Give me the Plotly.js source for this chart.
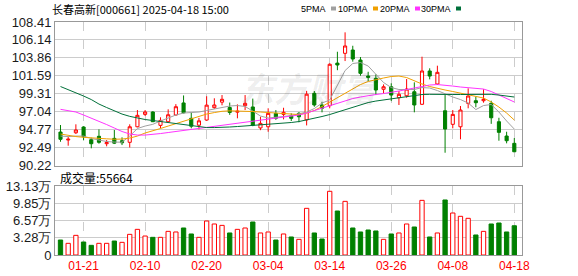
<!DOCTYPE html>
<html><head><meta charset="utf-8">
<script src="https://cdn.plot.ly/plotly-3.0.1.min.js"></script>
<style>html,body{margin:0;padding:0;background:#fff;}#chart{width:578px;height:276px;}</style>
</head><body><div id="chart"></div>
<script>
const dates = ['01-16','01-17','01-20','01-21','01-22','01-23','01-24','01-27','02-05','02-06',
'02-07','02-10','02-11','02-12','02-13','02-14','02-17','02-18','02-19','02-20',
'02-21','02-24','02-25','02-26','02-27','02-28','03-03','03-04','03-05','03-06',
'03-07','03-10','03-11','03-12','03-13','03-14','03-17','03-18','03-19','03-20',
'03-21','03-24','03-25','03-26','03-27','03-28','03-31','04-01','04-02','04-03',
'04-07','04-08','04-09','04-10','04-11','04-14','04-15','04-16','04-17','04-18'];
const openP = [94.46,93.45,94.37,95.10,93.49,93.92,92.98,93.66,93.36,93.16,
95.13,96.70,97.00,95.31,95.77,96.62,98.15,96.20,95.33,95.98,
97.55,98.25,97.57,96.98,97.80,97.64,94.98,95.13,96.83,96.70,
96.53,96.83,96.00,99.37,97.89,97.80,103.20,104.44,104.86,103.59,
101.56,101.27,99.88,100.20,98.81,99.06,99.57,97.98,102.20,100.55,
97.16,95.44,95.13,98.10,98.43,98.43,98.10,95.77,93.96,93.03];
const highP = [95.35,93.87,95.44,95.20,93.74,94.80,93.45,94.72,93.79,95.44,
97.25,97.25,97.10,96.33,97.34,98.00,99.10,96.90,96.25,99.00,
98.74,99.15,98.20,97.97,99.15,98.70,96.40,97.47,97.25,97.54,
96.83,97.00,99.68,99.66,98.30,103.17,104.64,107.10,105.40,103.97,
102.10,101.78,100.50,100.64,99.66,101.18,100.76,104.01,102.54,102.87,
99.15,97.25,97.76,100.00,98.94,99.88,98.43,96.27,94.50,93.70];
const lowP = [93.23,92.73,94.21,93.41,92.40,92.98,92.65,92.94,92.81,92.50,
95.06,96.50,95.73,94.93,95.69,96.55,96.83,94.93,94.80,95.90,
97.40,97.85,96.64,96.20,97.25,95.20,94.70,94.50,96.00,96.07,
95.86,95.70,95.30,97.67,96.96,97.47,102.30,103.46,103.38,101.60,
100.93,99.15,99.37,98.39,97.89,98.81,96.96,97.89,101.14,100.42,
91.84,94.93,93.54,97.47,97.60,98.18,95.50,93.36,93.03,91.96];
const closeP = [93.54,93.55,94.72,93.87,92.98,93.16,93.12,93.05,93.10,95.13,
96.58,97.00,95.77,95.94,96.65,97.67,96.90,95.20,95.88,97.87,
97.89,98.61,96.95,97.10,98.10,95.30,95.56,96.83,96.20,96.96,
96.20,96.40,99.26,97.89,97.47,103.05,102.96,105.37,103.72,101.90,
101.40,99.79,100.20,99.15,99.24,99.91,97.89,102.20,101.56,102.03,
94.84,96.70,97.25,99.03,98.18,98.61,96.27,94.42,93.36,91.96];
const ma5 = [93.95,93.89,93.95,93.95,93.64,93.45,93.26,93.19,93.17,93.95,
94.91,95.22,95.44,95.86,96.24,96.62,96.87,96.93,97.00,97.19,
97.38,97.63,97.76,97.82,97.70,97.12,96.49,96.24,96.30,96.43,
96.55,96.74,97.00,97.44,98.14,98.52,100.42,102.26,103.15,103.27,
102.83,101.82,100.74,100.10,99.85,99.85,99.85,100.10,100.04,99.72,
99.28,98.90,98.58,98.14,97.31,97.82,97.95,97.00,95.86,94.84];
const ma10 = [94.21,94.02,93.89,93.79,93.70,93.66,93.60,93.55,93.57,93.70,
93.95,94.34,94.59,94.91,95.22,95.54,95.86,96.11,96.43,96.74,
96.93,97.09,97.15,97.15,97.12,97.06,97.00,96.93,96.87,96.78,
96.68,96.68,96.87,97.19,97.70,98.27,98.84,99.41,99.98,100.48,
100.87,101.12,101.31,101.50,101.56,101.37,100.93,100.55,100.23,99.98,
99.79,99.60,99.41,99.22,99.03,98.77,98.27,97.63,96.87,95.98];
const ma20 = [97.34,97.19,97.00,96.62,96.24,95.86,95.41,94.97,94.53,94.21,
94.08,94.08,94.14,94.27,94.40,94.53,94.65,94.78,94.91,95.03,
95.16,95.29,95.41,95.54,95.67,95.79,95.92,96.05,96.17,96.30,
96.43,96.62,96.87,97.19,97.51,97.82,98.14,98.46,98.71,98.90,
99.09,99.22,99.34,99.47,99.66,99.85,100.04,100.23,100.42,100.48,
100.42,100.29,100.17,100.10,100.04,99.91,99.60,99.15,98.71,98.27];
const ma30 = [100.23,99.85,99.41,99.03,98.58,98.01,97.57,97.12,96.74,96.45,
96.24,96.05,95.92,95.79,95.67,95.54,95.41,95.29,95.16,95.03,
95.03,95.03,95.10,95.16,95.22,95.29,95.35,95.41,95.54,95.60,
95.67,95.79,95.98,96.17,96.43,96.68,97.00,97.31,97.63,97.95,
98.20,98.39,98.52,98.65,98.77,98.90,99.09,99.22,99.24,99.26,
99.24,99.22,99.22,99.22,99.24,99.26,99.24,99.15,99.03,98.90];
const volume = [28500,22200,37400,24700,18400,22200,22200,26600,24100,39300,
48800,36100,33600,33600,45000,43800,51400,40000,33600,64700,
59000,56400,41900,48800,51400,62800,41900,43800,28500,40000,
34300,29800,88800,41900,30400,121200,83700,102100,51400,43800,
47600,45700,29800,40000,41900,59000,53300,104000,34300,41900,
104700,79900,73600,69800,38100,45000,59000,60900,43800,55664];
const volUp = [0,1,1,0,0,1,1,0,1,1, 1,1,0,1,1,1,0,0,1,1, 1,1,0,1,1,0,1,1,0,1,
0,1,1,0,0,1,0,1,0,0, 0,0,1,0,1,1,0,1,0,1, 0,1,1,1,0,1,0,0,0,0];
const priceTicks = [90.22,92.49,94.77,97.04,99.31,101.59,103.86,106.14,108.41];
const volTicks = [0,32800,65700,98500,131300];
const volTickText = ['0','3.28万','6.57万','9.85万','13.13万'];
const xTickDates = ['01-21','02-10','02-20','03-04','03-14','03-26','04-08','04-18'];
const stockTitle = '长春高新[000661] 2025-04-18 15:00';
const maNames = ['5PMA','10PMA','20PMA','30PMA'];

const RED = '#ff0000', GREEN = '#008000';
const maColors = ['#a0a0a0','#f0a000','#ff33ff','#00703a'];
const L = 55, R = 522, T = 22, B = 255;
const px = v => (v - L) / (R - L);
const py = v => (B - v) / (B - T);

const traces = [
  {type:'candlestick', x:dates, open:openP, high:highP, low:lowP, close:closeP,
   xaxis:'x', yaxis:'y', whiskerwidth:0,
   increasing:{line:{color:RED,width:1}, fillcolor:'#ffffff'},
   decreasing:{line:{color:GREEN,width:1}, fillcolor:GREEN},
   hoverinfo:'skip', showlegend:false}
];
[ma5, ma10, ma20, ma30].forEach((m,k)=>{
  traces.push({type:'scatter', mode:'lines', x:dates, y:m, xaxis:'x', yaxis:'y',
    line:{color:maColors[k], width:1}, hoverinfo:'skip', showlegend:false});
});
traces.push({type:'bar', x:dates, y:volume, xaxis:'x2', yaxis:'y2', width:0.56,
  marker:{color:volUp.map(u=>u?'#ffffff':GREEN), line:{color:volUp.map(u=>u?RED:GREEN), width:1}},
  hoverinfo:'skip', showlegend:false});

const axBase = {type:'category', range:[-0.715, 60.0], showline:true, mirror:true,
  linecolor:'#999', linewidth:1, showgrid:true, gridcolor:'#cccccc', griddash:'dash', gridwidth:1,
  tickmode:'array', tickvals:xTickDates, ticks:'', zeroline:false, fixedrange:true};

const annotations = [
  {xref:'paper', yref:'paper', x:px(50), y:py(9), xanchor:'left', yanchor:'middle', showarrow:false,
   text:stockTitle, font:{family:'Noto Sans CJK SC', size:11, color:'#000'}},
  {xref:'paper', yref:'paper', x:px(58), y:py(177), xanchor:'left', yanchor:'middle', showarrow:false,
   text:'成交量:' + volume[volume.length-1], font:{family:'Noto Sans CJK SC', size:12, color:'#000'}},
  {xref:'paper', yref:'paper', x:px(310), y:py(88), xanchor:'center', yanchor:'middle', showarrow:false,
   text:'<i>东方财富</i>', font:{family:'Noto Sans CJK SC', size:34, color:'rgba(0,0,0,0.08)', weight:700}}
];
const legendRight = [328, 370, 412, 453];
const shapes = [];
maNames.forEach((n,k)=>{
  annotations.push({xref:'paper', yref:'paper', x:px(legendRight[k]), y:py(9), xanchor:'right', yanchor:'middle',
    showarrow:false, text:n, font:{family:'Liberation Sans, Arial', size:9, color:'#000'}});
  shapes.push({type:'rect', xref:'paper', yref:'paper', x0:px(legendRight[k]+3), x1:px(legendRight[k]+8),
    y0:py(10.5), y1:py(6.5), fillcolor:maColors[k], line:{width:0}});
});

const layout = {
  width:578, height:276, margin:{l:L, r:578-R, t:T, b:276-B}, paper_bgcolor:'#fff', plot_bgcolor:'#fff',
  showlegend:false, boxgap:0.42, bargap:0.4, dragmode:false,
  xaxis:Object.assign({}, axBase, {anchor:'y', showticklabels:false, rangeslider:{visible:false}}),
  xaxis2:Object.assign({}, axBase, {anchor:'y2', matches:'x', showticklabels:true,
    tickfont:{family:'Arial', size:12, color:RED}}),
  yaxis:{domain:[py(165.5), 1], range:[90.22,108.41], tickmode:'array', tickvals:priceTicks,
    ticktext:priceTicks.map(v=>v.toFixed(2)), showgrid:true, gridcolor:'#cccccc', zeroline:false,
    showline:true, mirror:true, linecolor:'#999', ticks:'', tickfont:{family:'Arial', size:13, color:'#1a1a1a'}, fixedrange:true},
  yaxis2:{domain:[0, py(186)], range:[0,131300], tickmode:'array', tickvals:volTicks, ticktext:volTickText,
    showgrid:true, gridcolor:'#cccccc', zeroline:false, showline:true, mirror:true, linecolor:'#999', ticks:'',
    tickfont:{family:'Arial', size:13, color:'#1a1a1a'}, fixedrange:true},
  annotations:annotations, shapes:shapes
};
Plotly.newPlot('chart', traces, layout, {staticPlot:true, displayModeBar:false});
</script></body></html>
